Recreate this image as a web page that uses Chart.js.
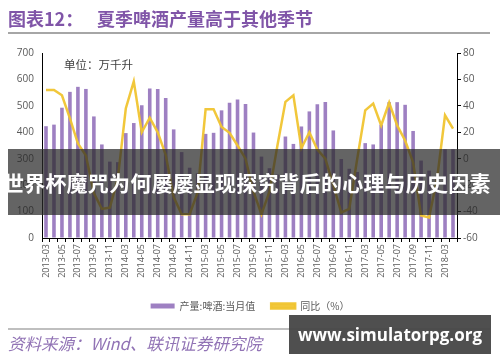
<!DOCTYPE html>
<html><head><meta charset="utf-8">
<script src="https://cdn.jsdelivr.net/npm/chart.js@4.4.1/dist/chart.umd.min.js"></script>
<style>
html,body{margin:0;padding:0;background:#fff;}
#wrap{position:relative;width:500px;height:362px;overflow:hidden;font-family:"Noto Sans CJK SC","Noto Sans",sans-serif;}
#c{position:absolute;left:0;top:0;}
.t{position:absolute;white-space:nowrap;}
</style></head><body>
<div id="wrap">
<canvas id="c" width="500" height="362"></canvas>
<div class="t" style="left:8px;top:5px;font-size:18px;font-weight:bold;color:#8055a8;">图表12：</div>
<div class="t" style="left:97px;top:5px;font-size:18px;font-weight:bold;color:#8055a8;">夏季啤酒产量高于其他季节</div>
<div style="position:absolute;left:8px;top:32px;width:482px;height:2px;background:#a6a6a6;"></div>
<div class="t" style="left:64px;top:56px;font-size:11.5px;color:#404040;">单位：万千升</div>
<div style="position:absolute;left:8px;top:328px;width:482px;height:2px;background:#bfbfbf;"></div>
<div class="t" style="left:8px;top:331px;font-size:16.5px;font-style:italic;color:#9173b5;">资料来源：Wind、联讯证券研究院</div>
<div style="position:absolute;left:8px;top:149px;width:492px;height:66px;background:rgba(40,40,40,0.72);"></div>
<div class="t" style="left:3px;top:167px;font-size:21px;font-weight:bold;color:#fff;letter-spacing:0.2px;">世界杯魔咒为何屡屡显现探究背后的心理与历史因素</div>
<div style="position:absolute;left:289px;top:315px;width:202px;height:39px;background:rgba(70,70,70,0.95);"></div>
<div class="t" style="left:289px;top:323px;width:202px;text-align:center;font-family:'Open Sans','DejaVu Sans',sans-serif;font-size:17px;font-weight:bold;color:#fff;">www.simulatorpg.org</div>
</div>
<script>
const years = ['2013','2014','2015','2016','2017'];
const months = ['03','04','05','06','07','08','09','10','11','12'];
const categories = [];
years.forEach(y => months.forEach(m => categories.push(y + '-' + m)));
categories.push('2018-03', '2018-04');

const output = [
  423, 429, 493, 553, 572, 564, 460, 354, 289, 287,
  397, 435, 502, 566, 564, 530, 411, 325, 266, 245,
  394, 398, 483, 512, 524, 507, 399, 308, 264, 240,
  384, 356, 422, 479, 506, 515, 407, 299, 262, 250,
  359, 354, 429, 514, 514, 504, 405, 293, 255, 235,
  336, 336
];
const yoy = [
  52, 52, 48, 30.5, 11.5, 2.4, -26, -38, -37, -15,
  38, 58.5, 20, 31, 20, 3, -29, -42, -42, -25.5,
  37.4, 37.4, 24, 19.6, 10, 0, -25, -42, -25, 10,
  43, 48, 8, 20, 7, 0, -20, -40.7, -38, 0,
  36.6, 41.7, 25.2, 42.5, 25.2, 13.8, -2.7, -43, -44.5, -15.3,
  32.8, 22.7
];
const leftTicks = [0, 700, 100];
const rightTicks = [-60, 80, 20];
const seriesNames = ['产量:啤酒:当月值', '同比（%）'];

const tickFont = {family: "'Open Sans','Liberation Sans',sans-serif", size: 10};
new Chart(document.getElementById('c'), {
  data: {
    labels: categories,
    datasets: [
      {type: 'bar', label: seriesNames[0], data: output, yAxisID: 'y',
       backgroundColor: '#9e80c2', borderWidth: 0, barPercentage: 0.45, categoryPercentage: 1, order: 2},
      {type: 'line', label: seriesNames[1], data: yoy, yAxisID: 'y1',
       borderColor: 'rgba(240,196,48,0.95)', backgroundColor: 'rgba(240,196,48,0.95)', borderWidth: 2.5,
       pointRadius: 0, tension: 0, order: 1}
    ]
  },
  options: {
    responsive: false, animation: false,
    layout: {padding: {top: 53, left: 0, right: 0, bottom: 41}},
    plugins: {
      tooltip: {enabled: false},
      legend: {position: 'bottom',
        labels: {boxWidth: 24, boxHeight: 5, padding: 16, color: '#595959',
          font: {family: "'Noto Sans CJK SC',sans-serif", size: 10},
          sort: (a, b) => a.datasetIndex - b.datasetIndex}}
    },
    scales: {
      x: {offset: true,
        grid: {offset: true, drawOnChartArea: false, tickLength: 4, color: '#000'},
        border: {color: '#000'},
        ticks: {autoSkip: false, maxRotation: 90, minRotation: 90, color: '#595959', font: {family: tickFont.family, size: 9}, padding: 2,
          callback: function(v, i) { return i % 2 === 0 ? this.getLabelForValue(v) : ''; }},
        afterFit: s => { s.height = 47; }
      },
      y: {position: 'left', min: leftTicks[0], max: leftTicks[1],
        ticks: {stepSize: leftTicks[2], color: '#595959', font: tickFont, padding: 8},
        grid: {display: true, drawOnChartArea: false, drawTicks: false},
        border: {color: '#000'},
        afterFit: s => { s.width = 42; }
      },
      y1: {position: 'right', min: rightTicks[0], max: rightTicks[1],
        ticks: {stepSize: rightTicks[2], color: '#595959', font: tickFont, padding: 2},
        grid: {drawOnChartArea: false, tickLength: 4, color: '#000'},
        border: {color: '#000'},
        afterFit: s => { s.width = 43; }
      }
    }
  }
});
</script>
</body></html>
